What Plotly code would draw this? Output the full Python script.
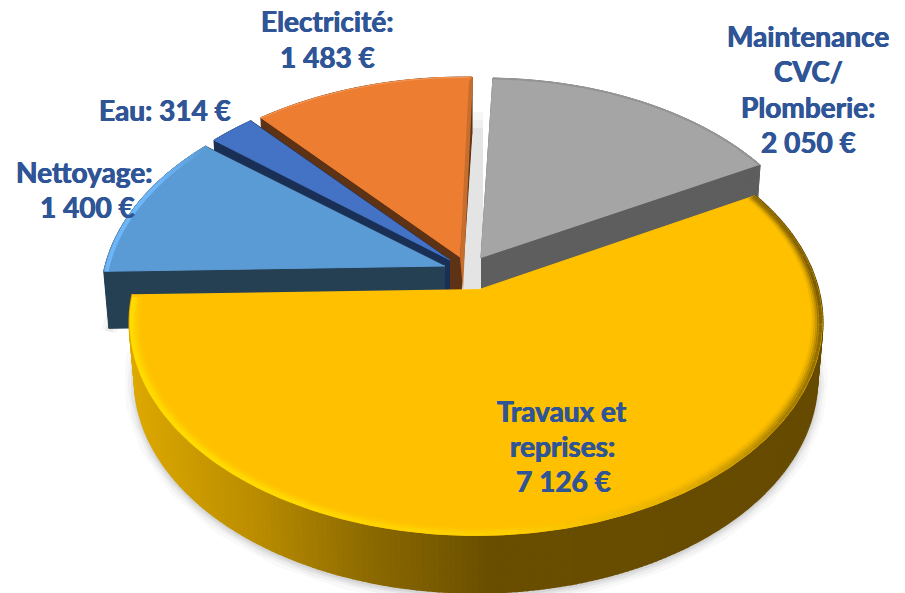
import numpy as np
import plotly.graph_objects as go

# ---- data ----
categories = ["Travaux et reprises", "Nettoyage", "Eau", "Electricité", "Maintenance CVC/Plomberie"]
values = [7126, 1400, 314, 1483, 2050]
label_lines = [
    ["Travaux et", "reprises:", "7 126 €"],
    ["Nettoyage:", "1 400 €"],
    ["Eau: 314 €"],
    ["Electricité:", "1 483 €"],
    ["Maintenance", "CVC/", "Plomberie:", "2 050 €"],
]

# ---- styling and layout ----
face_colors = ["#FFC000", "#5B9BD5", "#4472C4", "#ED7D31", "#A5A5A5"]
wall_colors = ["#664B00", "#264053", "#1A2F55", "#5E3214", "#5E5E5E"]
tips = [(481, 289), (445, 266), (450, 260), (460, 257), (481, 258)]
arc_centers = [(476, 289), (445, 266), (450, 260), (460, 257), (481, 258)]
radii_x = [342, 340, 335, 340, 340]
lean = [0, 0, 0, 4, 4]
label_xy = [
    [(562, 411), (562, 446), (563, 481)],
    [(84, 172), (87, 207)],
    [(165, 110)],
    [(327, 21), (327, 57)],
    [(808, 36), (808, 71), (808, 107), (808, 142)],
]
START_ANGLE = 61.2
RY, K = 208.0, 0.156
DEPTH, NARROW = 57.0, 0.985
TEXT = "#2F5597"

fig = go.Figure()


def project(theta, r, center, rx, sk=0):
    t = np.radians(theta)
    X, Y = r * np.sin(t), r * np.cos(t)
    w = 1 + K * Y
    return center[0] + rx * X / w + sk * Y, center[1] - RY * Y / w


def lower(x, y, cx):
    return cx + (np.asarray(x) - cx) * NARROW, np.asarray(y) + DEPTH


def poly(x, y, fill, line=None, width=0.0):
    fig.add_trace(go.Scatter(
        x=list(x), y=list(y), mode="lines", fill="toself", fillcolor=fill,
        line=dict(color=line or fill, width=width), hoverinfo="skip", showlegend=False))


def seg(x, y, color, width):
    fig.add_trace(go.Scatter(
        x=list(x), y=list(y), mode="lines", line=dict(color=color, width=width),
        hoverinfo="skip", showlegend=False))


def mix(a, b, f):
    a = np.array([int(a[i:i + 2], 16) for i in (1, 3, 5)], float)
    b = np.array([int(b[i:i + 2], 16) for i in (1, 3, 5)], float)
    c = a + (b - a) * min(max(f, 0), 1)
    return "rgb(%d,%d,%d)" % tuple(c)


def ramp(stops, v):
    xs = [s[0] for s in stops]
    for i in range(len(stops) - 1):
        if v <= xs[i + 1]:
            return mix(stops[i][1], stops[i + 1][1], (v - xs[i]) / (xs[i + 1] - xs[i]))
    return stops[-1][1]


# angular extents from the values
total = sum(values)
sweeps = [v / total * 360 for v in values]
starts = START_ANGLE + np.concatenate([[0], np.cumsum(sweeps)[:-1]])
spans = [(s, s + d) for s, d in zip(starts, sweeps)]

arcs = []
for i in range(len(values)):
    th = np.linspace(spans[i][0], spans[i][1], max(8, int(sweeps[i] * 1.5)))
    ax, ay = project(th, 1.0, arc_centers[i], radii_x[i], lean[i])
    arcs.append((th, ax, ay))

# ---- soft ground shadow ----
wx, wy = arcs[0][1], arcs[0][2]
bx, by = lower(wx, wy, 476)
for width, alpha in [(22, 0.025), (15, 0.035), (9, 0.05), (4, 0.06)]:
    seg(bx, by + 2, f"rgba(0,0,0,{alpha})", width)
nx, ny = lower(arcs[1][1], arcs[1][2], 445)
for width, alpha in [(16, 0.03), (8, 0.05)]:
    seg(nx[:len(nx) // 3], ny[:len(ny) // 3] + 3, f"rgba(0,0,0,{alpha})", width)

# shadow in the gap between orange and grey, fading out at the top
for rise, shade in [(146, "#F6F6F6"), (138, "#EEEEEE"), (130, "#E4E4E4")]:
    gap_x = [tips[4][0] + 2, tips[4][0] + 2, tips[3][0] + 3, tips[3][0] + 11]
    gap_y = [tips[4][1] - rise, tips[0][1], tips[0][1], tips[4][1] - rise]
    poly(gap_x, gap_y, shade)


def draw_slice(i, walls=True):
    th, ax, ay = arcs[i]
    tx, ty = tips[i]
    cx = tx
    px = np.concatenate([[tx], ax])
    py = np.concatenate([[ty], ay])
    if walls:
        lx, ly = lower(px, py, cx)
        # sweep of the face down to its floor: radial walls and rim
        for a, b in [(0, 1), (0, len(px) - 1)]:
            poly([px[a], px[b], lx[b], lx[a]], [py[a], py[b], ly[b], ly[a]], wall_colors[i], width=1)
        for j in range(1, len(px) - 1):
            poly([px[j], px[j + 1], lx[j + 1], lx[j]], [py[j], py[j + 1], ly[j + 1], ly[j]], wall_colors[i], width=1)
    poly(px, py, face_colors[i], width=1)


# back slices, far to near
draw_slice(4)
# grey rim shading
seg(*project(arcs[4][0], 0.997, arc_centers[4], radii_x[4], lean[4]), "#939393", 1.5)
draw_slice(3)
# orange lit side along its right edge
ox, oy = arcs[3][1], arcs[3][2]
poly([ox[-1] + 1, tips[3][0] + 3, tips[3][0], ox[-1] - 3],
     [oy[-1], tips[3][1] + 33, tips[3][1], oy[-1] + 4], "#C86E2D")
seg(*project(arcs[3][0][:-1], 0.998, arc_centers[3], radii_x[3], lean[3]), "#F59A5C", 1)
draw_slice(2)
draw_slice(1)
# light-blue rim highlight
th = arcs[1][0]
for j in range(len(th) - 1):
    f = (th[j] - th[0]) / (th[-1] - th[0])
    c = ramp([(0, "#6FB8FA"), (0.65, "#6FB8FA"), (1, "#5B9BD5")], f)
    xs, ys = project(th[j:j + 2], 0.992, arc_centers[1], radii_x[1])
    seg(xs, ys, c, 4)

# ---- main yellow slice: graded rim wall ----
wall_ramp = [(130, "#DDA900"), (250, "#BC8E00"), (370, "#8C6A00"), (490, "#6A4F00"), (830, "#664B00")]
th, ax, ay = arcs[0]
dense = np.linspace(th[0], th[-1], 260)
dx, dy = project(dense, 1.0, arc_centers[0], radii_x[0])
lx, ly = lower(dx, dy, 476)
for j in range(len(dense) - 1):
    c = ramp(wall_ramp, (dx[j] + dx[j + 1]) / 2)
    poly([dx[j], dx[j + 1], lx[j + 1], lx[j]], [dy[j], dy[j + 1], ly[j + 1], ly[j]], c, width=2.5)
draw_slice(0, walls=False)

# bevel around the rim of the yellow face
rim_ramp = [(61, "#8F6C00"), (90, "#6F5300"), (125, "#A07A00"), (150, "#E6B000"),
            (175, "#FFD000"), (215, "#FFDE00"), (269, "#FFE000")]
band = dense[::3]
for r, w, alpha in [(0.974, 3, 0.10), (0.980, 3, 0.2), (0.985, 3, 0.35), (0.990, 3, 0.6), (0.996, 3, 0.9)]:
    for j in range(len(band) - 1):
        mid = (band[j] + band[j + 1]) / 2
        c = ramp(rim_ramp, mid).replace("rgb(", "rgba(").replace(")", f",{alpha})")
        xs, ys = project(band[j:j + 2], r, arc_centers[0], radii_x[0])
        seg(xs, ys, c, w)

# ---- labels ----
annotations = []
for lines, places in zip(label_lines, label_xy):
    for line, (x, y) in zip(lines, places):
        annotations.append(dict(
            x=x, y=y, xref="x", yref="y", text=f"<b>{line}</b>", showarrow=False,
            font=dict(family="Lato", size=28, color=TEXT,
                      shadow=f"0.4px 0 0.4px {TEXT}, -0.4px 0 0.4px {TEXT}"),
            xanchor="center", yanchor="middle"))

fig.update_layout(
    width=905, height=593, margin=dict(l=0, r=0, t=0, b=0),
    paper_bgcolor="white", plot_bgcolor="white", showlegend=False,
    xaxis=dict(range=[0, 905], visible=False, fixedrange=True),
    yaxis=dict(range=[593, 0], visible=False, fixedrange=True),
    annotations=annotations,
)
fig.write_html("out.html", config={"displayModeBar": False},
               post_script="document.body.style.margin='0';document.documentElement.style.overflow='hidden';")
